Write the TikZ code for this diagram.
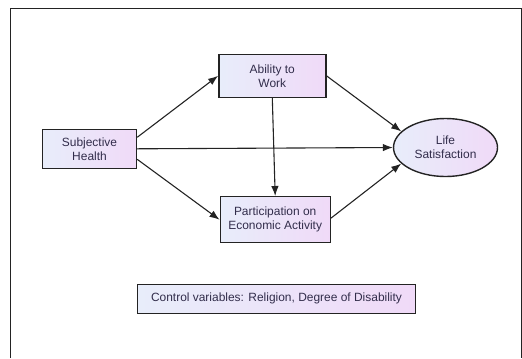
\documentclass[tikz,border=0pt]{standalone}
\usepackage{fontspec}
\setmainfont{Liberation Sans}
\usetikzlibrary{shapes.geometric,arrows.meta,calc}
\definecolor{boxleft}{RGB}{232,237,250}
\definecolor{boxright}{RGB}{240,218,248}
\definecolor{inkline}{RGB}{35,35,35}
\definecolor{inktext}{RGB}{50,45,75}
\tikzstyle{var}=[rectangle, draw=inkline, line width=1.4pt, left color=boxleft, right color=boxright, align=center, text=inktext, inner sep=0pt, font=\fontsize{12}{14}\selectfont]
\tikzstyle{outcome}=[var, ellipse]
\tikzset{link/.style={-{Latex[length=10bp,width=7.5bp]}, line width=1.1pt, draw=inkline}}
\tikzset{y=-1bp}
\tikzset{x=1bp}
\begin{document}
\begin{tikzpicture}
  \useasboundingbox (0,0) rectangle (522,358);
  %% frame
  \draw[line width=1pt, inkline] (10,358) -- (10,8) -- (521,8) -- (521,358);

  \draw (89.5,148.8) node[var,minimum width=94bp,minimum height=39bp] (SH) {Subjective\\Health};
  \draw (272.3,75.8) node[var,minimum width=107bp,minimum height=43bp] (AW) {Ability to\\Work};
  \draw (275.2,219.7) node[var,minimum width=110bp,minimum height=46bp] (PEA) {Participation on\\Economic Activity};
  \draw (445.5,147.5) node[outcome,minimum width=104bp,minimum height=58bp] (LS) {Life\\Satisfaction};

  \draw[link] ([yshift=11.5bp]SH.east) -- (AW.west);
  \draw[link] (SH.east) -- (LS.west);
  \draw[link] ([yshift=-10.5bp]SH.east) -- (PEA.west);
  \draw[link] (AW.south) -- (PEA.north);
  \draw[link] (AW.east) -- (LS.160);
  \draw[link] ([yshift=1.5bp]PEA.east) -- (LS.200);

  %% Legend things
  \draw (276.5,298.8) node[var,minimum width=278bp,minimum height=29bp] (CV) {Control variables: Religion, Degree of Disability};
\end{tikzpicture}
\end{document}
